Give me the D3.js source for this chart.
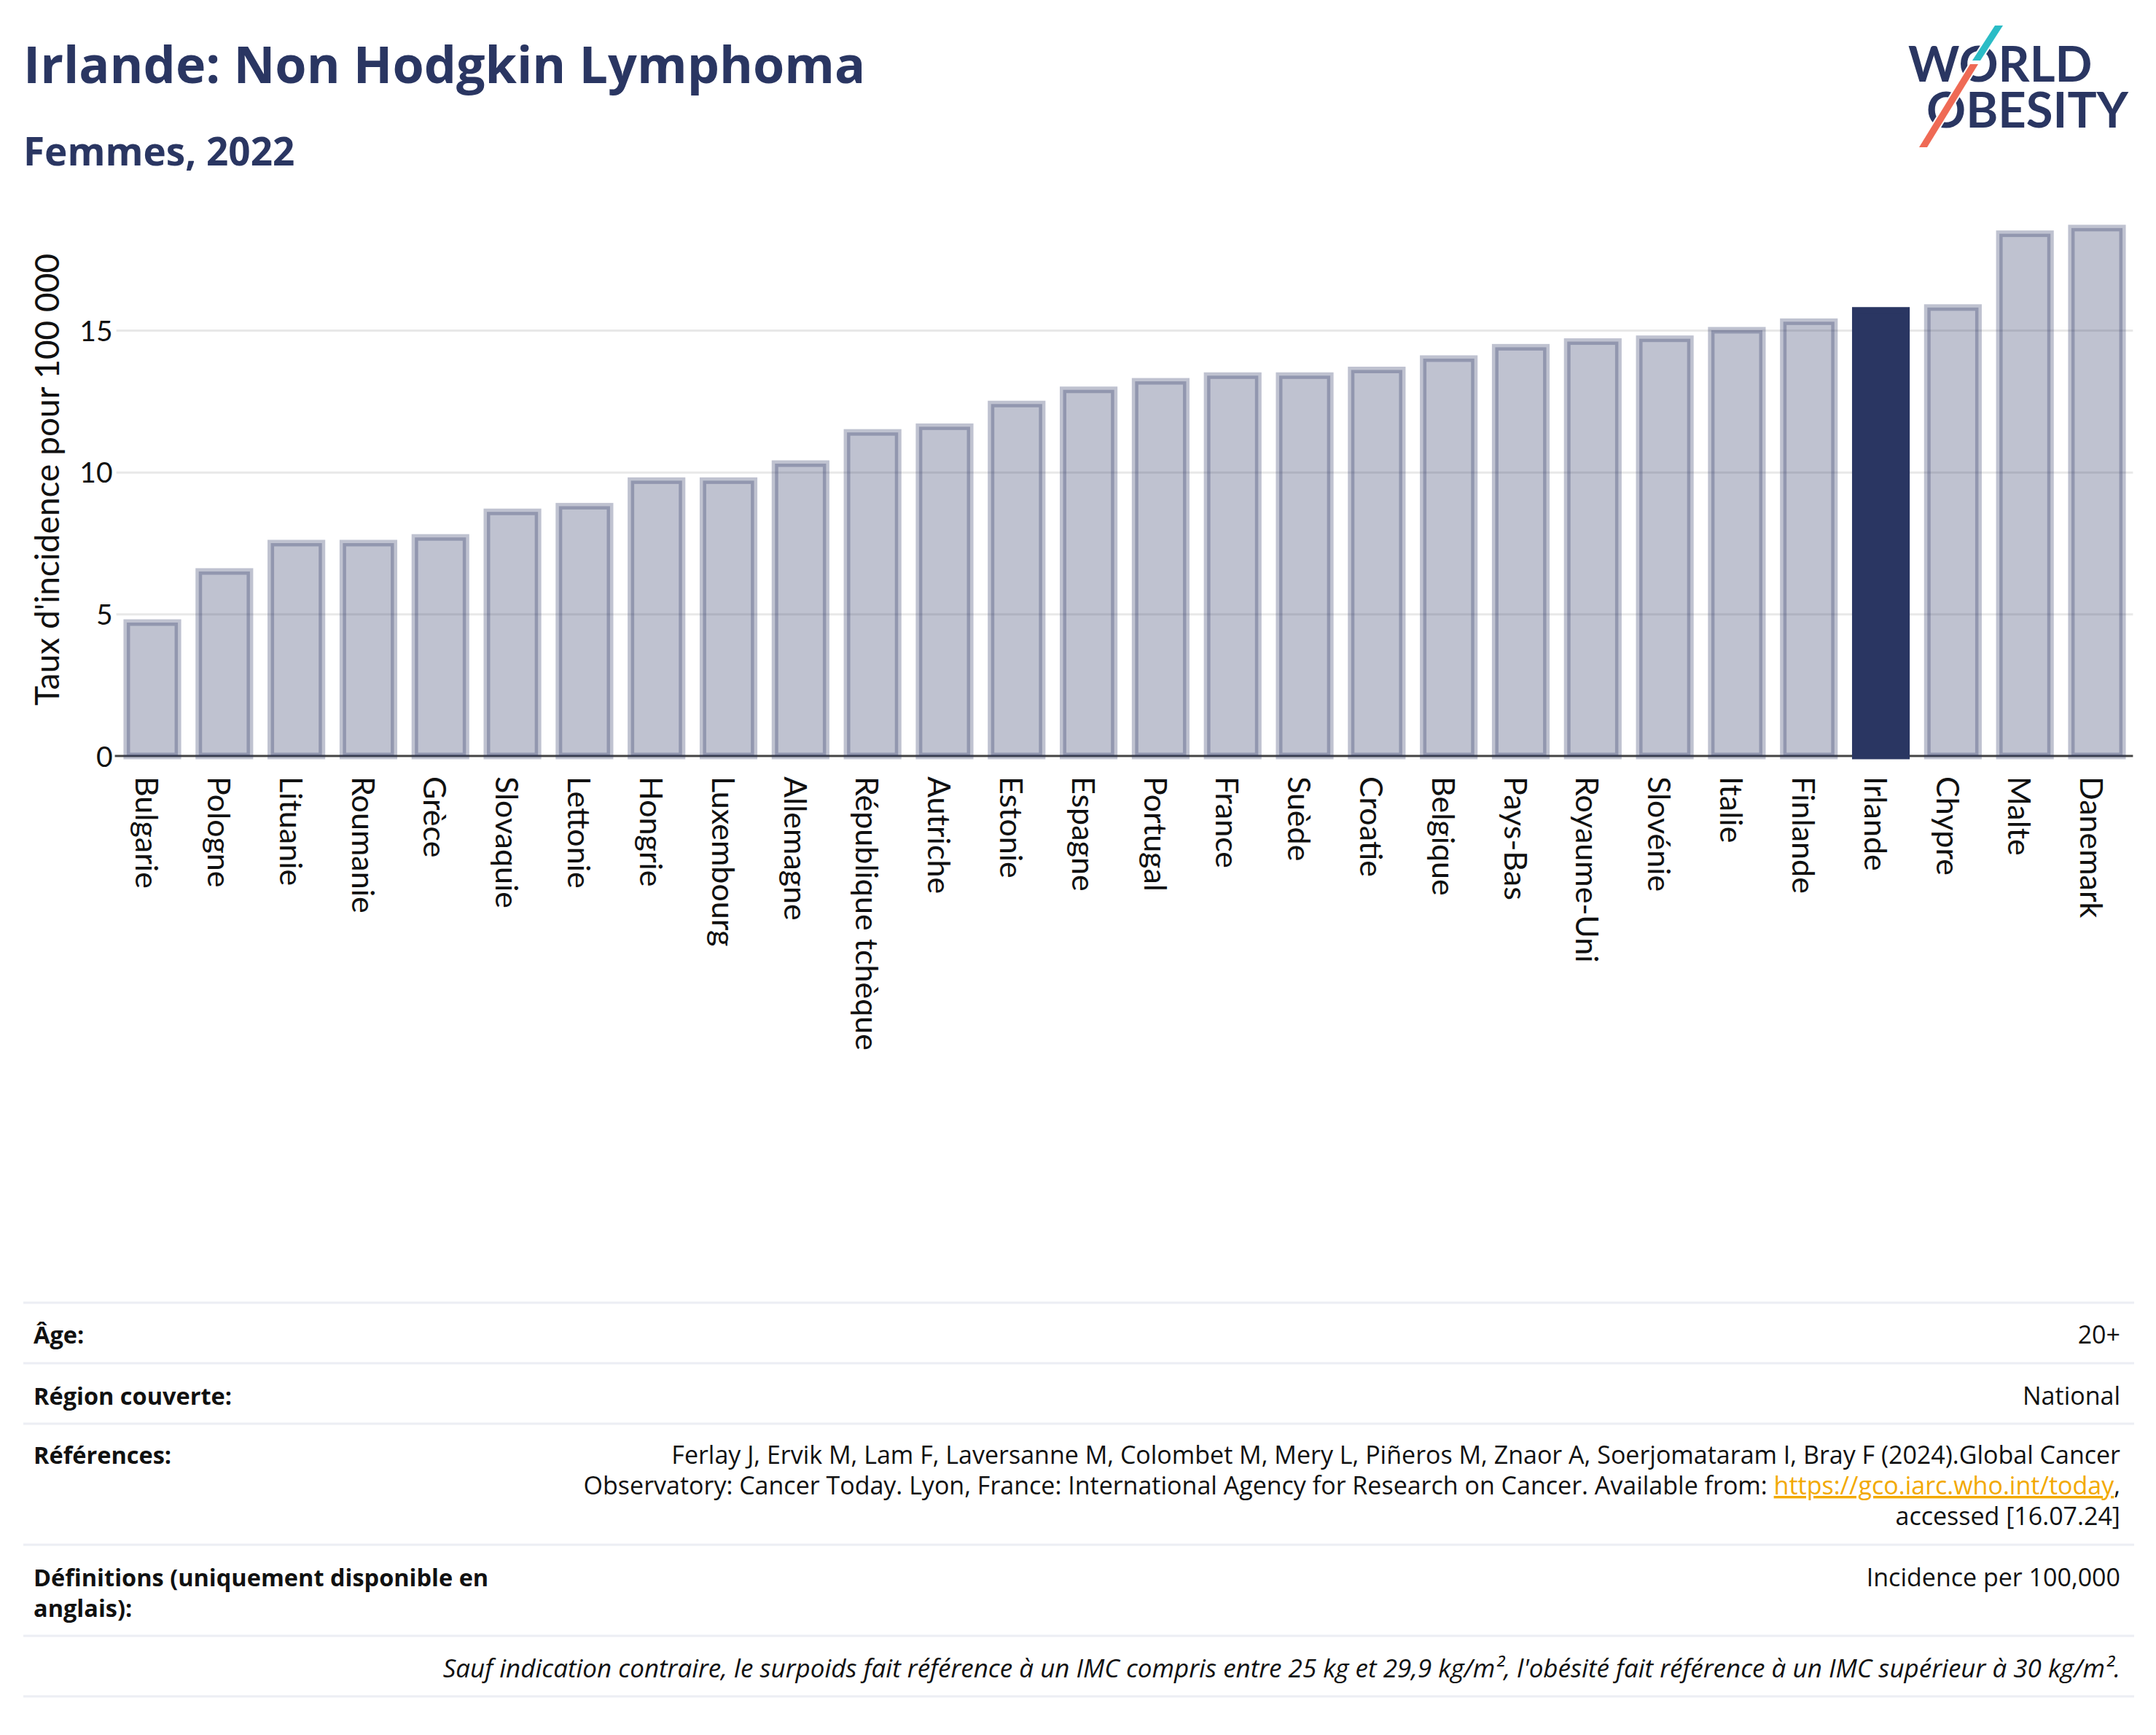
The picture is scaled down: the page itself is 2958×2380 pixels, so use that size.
<!DOCTYPE html>
<html>
<head>
<meta charset="utf-8">
<script src="https://cdn.jsdelivr.net/npm/d3@7"></script>
<style>
  html, body { margin: 0; padding: 0; background: #fff; }
  svg { display: block; }
</style>
</head>
<body>
<svg id="chart" width="2958" height="2380"></svg>
<script>
// ---------- data ----------
const countries = ["Bulgarie","Pologne","Lituanie","Roumanie","Grèce","Slovaquie","Lettonie","Hongrie","Luxembourg","Allemagne","République tchèque","Autriche","Estonie","Espagne","Portugal","France","Suède","Croatie","Belgique","Pays-Bas","Royaume-Uni","Slovénie","Italie","Finlande","Irlande","Chypre","Malte","Danemark"];
const values = [4.7,6.5,7.5,7.5,7.7,8.6,8.8,9.7,9.7,10.3,11.4,11.6,12.4,12.9,13.2,13.4,13.4,13.6,14.0,14.4,14.6,14.7,15.0,15.3,15.7,15.8,18.4,18.6];
const highlight = "Irlande";
const yTicks = [0,5,10,15];
const titleText = "Irlande: Non Hodgkin Lymphoma";
const subtitleText = "Femmes, 2022";
const yAxisTitle = "Taux d'incidence pour 100 000";
const footerRows = [
  {label:["Âge:"], value:["20+"]},
  {label:["Région couverte:"], value:["National"]},
  {label:["Références:"], value:[
    "Ferlay J, Ervik M, Lam F, Laversanne M, Colombet M, Mery L, Piñeros M, Znaor A, Soerjomataram I, Bray F (2024).Global Cancer",
    "Observatory: Cancer Today. Lyon, France: International Agency for Research on Cancer. Available from: |https://gco.iarc.who.int/today|,",
    "accessed [16.07.24]"]},
  {label:["Définitions (uniquement disponible en","anglais):"], value:["Incidence per 100,000"]}
];
const noteText = "Sauf indication contraire, le surpoids fait référence à un IMC compris entre 25 kg et 29,9 kg/m², l'obésité fait référence à un IMC supérieur à 30 kg/m².";

// ---------- layout ----------
const navy = "#2a3662";
const svg = d3.select("#chart");
const chartFont = "Lato, 'Noto Sans', sans-serif";
const footFont = "'Open Sans', 'Noto Sans', sans-serif";

const plotLeft = 159.6, plotRight = 2926.4, y0px = 1037, y15px = 453;
const x = d3.scaleBand().domain(countries).range([plotLeft, plotRight]).paddingInner(0.29).paddingOuter(0.145);
const y = d3.scaleLinear().domain([0, 15]).range([y0px, y15px]);

// title
svg.append("text").attr("x", 32).attr("y", 114)
  .attr("font-family", footFont).attr("font-weight", 700).attr("font-size", 70)
  .attr("fill", navy).text(titleText);
svg.append("text").attr("x", 32).attr("y", 227)
  .attr("font-family", footFont).attr("font-weight", 700).attr("font-size", 53)
  .attr("fill", navy).text(subtitleText);

// logo
const logo = svg.append("g");
const logoText = logo.append("text").attr("font-family", chartFont).attr("font-weight", 700)
  .attr("font-size", 67).attr("fill", navy);
logoText.append("tspan").attr("x", 2618).attr("y", 112).text("WORLD");
logoText.append("tspan").attr("x", 2643).attr("y", 175).text("OBESITY");
logo.append("polygon").attr("points", "2737,35 2748,35 2717,83 2706,83").attr("fill", "#2bbcc6")
  .attr("stroke", "#fff").attr("stroke-width", 4).attr("paint-order", "stroke");
logo.append("polygon").attr("points", "2703,88 2714,88 2644,202 2633,202").attr("fill", "#ef6a55")
  .attr("stroke", "#fff").attr("stroke-width", 4).attr("paint-order", "stroke");

// gridlines
const grid = svg.append("g").attr("transform", `translate(${plotLeft},0)`)
  .call(d3.axisLeft(y).tickValues(yTicks.filter(t => t > 0)).tickSize(-(plotRight - plotLeft)).tickFormat(""));
grid.select(".domain").remove();
grid.selectAll("line").attr("stroke", "#e8e8e8").attr("stroke-width", 3);

// y tick labels
const yAxis = svg.append("g").attr("transform", `translate(${plotLeft},0)`)
  .call(d3.axisLeft(y).tickValues(yTicks).tickSize(0).tickPadding(5));
yAxis.select(".domain").remove();
yAxis.selectAll("text").attr("font-family", chartFont).attr("font-size", 39).attr("fill", "#111")
  .attr("x", -5).attr("dy", "0.36em");

// y axis title
svg.append("text").attr("transform", "translate(81,658) rotate(-90)")
  .attr("text-anchor", "middle").attr("font-family", chartFont).attr("font-size", 46)
  .attr("fill", "#111").text(yAxisTitle);

// baseline (drawn under bars)
svg.append("line").attr("x1", plotLeft - 2).attr("x2", plotRight).attr("y1", y(0)).attr("y2", y(0))
  .attr("stroke", "#444").attr("stroke-width", 3);

// bars
const data = countries.map((c, i) => ({c, v: values[i]}));
svg.append("g").selectAll("rect").data(data).join("rect")
  .attr("x", d => x(d.c)).attr("width", x.bandwidth())
  .attr("y", d => y(d.v)).attr("height", d => y(0) - y(d.v))
  .attr("fill", d => d.c === highlight ? navy : "rgba(42,54,98,0.3)")
  .attr("stroke", d => d.c === highlight ? navy : "rgba(42,54,98,0.3)")
  .attr("stroke-width", 9);

// x labels
const xAxis = svg.append("g").attr("transform", `translate(0,${y(0)})`)
  .call(d3.axisBottom(x).tickSize(0));
xAxis.select(".domain").remove();
xAxis.selectAll("text").attr("transform", "rotate(90)").attr("x", 28).attr("y", 0)
  .attr("dy", "0.53em").style("text-anchor", "start")
  .attr("font-family", chartFont).attr("font-size", 43).attr("fill", "#111");

// ---------- footer table ----------
const lineYs = [1787, 1870, 1953, 2119, 2244, 2327];
svg.append("g").selectAll("line").data(lineYs).join("line")
  .attr("x1", 32).attr("x2", 2928).attr("y1", d => d).attr("y2", d => d)
  .attr("stroke", "#eceef4").attr("stroke-width", 3);

const rowBaselines = [1843, 1927, 2008, 2176];
const lh = 42;
const foot = svg.append("g").attr("font-family", footFont).attr("fill", "#111");
footerRows.forEach((r, i) => {
  r.label.forEach((t, j) => {
    foot.append("text").attr("x", 46).attr("y", rowBaselines[i] + j * lh)
      .attr("font-size", 32.5).attr("font-weight", 700).text(t);
  });
  r.value.forEach((t, j) => {
    const tx = foot.append("text").attr("x", 2909).attr("y", rowBaselines[i] + j * lh)
      .attr("font-size", 34).attr("text-anchor", "end");
    const parts = t.split("|");
    parts.forEach((p, k) => {
      const ts = tx.append("tspan").text(p);
      if (k === 1) ts.attr("fill", "#f2a900").style("text-decoration", "underline");
    });
  });
});
foot.append("text").attr("x", 2909).attr("y", 2301).attr("text-anchor", "end")
  .attr("font-size", 35).attr("font-style", "italic").text(noteText);
</script>
</body>
</html>
